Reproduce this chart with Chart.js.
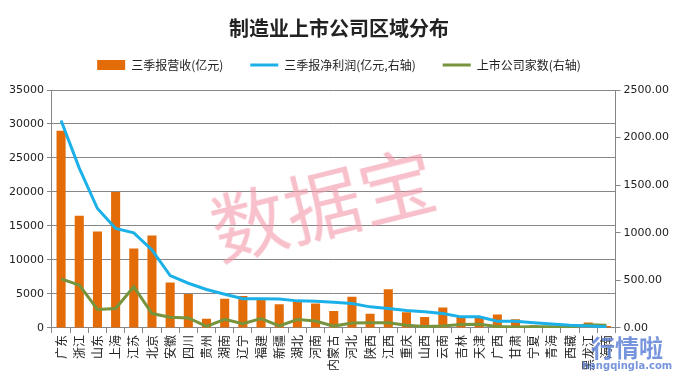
<!DOCTYPE html>
<html>
<head>
<meta charset="utf-8">
<script src="https://cdn.jsdelivr.net/npm/chart.js@4/dist/chart.umd.min.js"></script>
<style>
  body { margin: 0; background: #fff; }
  #wrap { position: relative; width: 674px; height: 380px; }
  #mark {
    position: absolute; left: 208px; top: 146px;
    font: 76px "Noto Sans CJK SC"; color: rgba(244, 150, 168, 0.6);
    transform: rotate(-14deg); pointer-events: none;
  }
  #logo {
    position: absolute; left: 582px; top: 334px; text-align: center;
    font: bold 24px "Noto Sans CJK SC"; color: rgba(95, 130, 215, 0.85);
    line-height: 26px; pointer-events: none;
  }
  #logo small { display: block; font: bold 10px "DejaVu Sans"; line-height: 12px; }
</style>
</head>
<body>
<div id="wrap">
  <canvas id="chart" width="674" height="380"></canvas>
  <div id="mark">数据宝</div>
  <div id="logo">行情啦<small>hangqingla.com</small></div>
</div>
<script>
var provinces = ['广东', '浙江', '山东', '上海', '江苏', '北京', '安徽', '四川', '贵州', '湖南',
  '辽宁', '福建', '新疆', '湖北', '河南', '内蒙古', '河北', '陕西', '江西', '重庆',
  '山西', '云南', '吉林', '天津', '广西', '甘肃', '宁夏', '青海', '西藏', '黑龙江', '海南'];

// 三季报营收(亿元)
var revenue = [29000, 16500, 14200, 20000, 11700, 13600, 6700, 5000, 1350, 4300,
  4700, 4100, 3500, 3900, 3600, 2500, 4600, 2100, 5700, 2300,
  1600, 3000, 1600, 1600, 2000, 1300, 400, 300, 250, 800, 300];

// 三季报净利润(亿元, 右轴)
var profit = [2180, 1680, 1255, 1045, 1000, 820, 550, 470, 405, 355,
  308, 307, 305, 285, 280, 270, 258, 222, 205, 185,
  170, 152, 117, 117, 72, 70, 56, 42, 28, 21, 14];

// 上市公司家数(右轴)
var companies = [516, 452, 195, 205, 434, 152, 113, 106, 18, 92,
  46, 99, 22, 88, 74, 20, 52, 55, 55, 28,
  15, 20, 38, 40, 15, 10, 12, 12, 10, 35, 30];

var tickFont = { family: 'DejaVu Sans', size: 11 };

// a bit more room between legend and plot
var legendGap = {
  id: 'legendGap',
  beforeInit: function (chart) {
    var fit = chart.legend.fit;
    chart.legend.fit = function () {
      fit.call(this);
      this.height += 9;
    };
  }
};

new Chart(document.getElementById('chart'), {
  type: 'bar',
  data: {
    labels: provinces,
    datasets: [{
      label: '三季报营收(亿元)',
      data: revenue,
      backgroundColor: '#E36C09',
      barPercentage: 0.5,
      categoryPercentage: 1,
      yAxisID: 'y',
      pointStyle: 'rect',
      order: 3
    }, {
      label: '三季报净利润(亿元,右轴)',
      type: 'line',
      data: profit,
      borderColor: '#1BB0E8',
      backgroundColor: '#1BB0E8',
      borderWidth: 3,
      pointRadius: 0,
      tension: 0,
      yAxisID: 'y1',
      pointStyle: 'line',
      order: 1
    }, {
      label: '上市公司家数(右轴)',
      type: 'line',
      data: companies,
      borderColor: '#77933C',
      backgroundColor: '#77933C',
      borderWidth: 3,
      pointRadius: 0,
      tension: 0,
      yAxisID: 'y1',
      pointStyle: 'line',
      order: 2
    }]
  },
  plugins: [legendGap],
  options: {
    responsive: false,
    animation: false,
    layout: { padding: { left: 6, right: 2, top: 6, bottom: 7 } },
    plugins: {
      title: {
        display: true,
        text: '制造业上市公司区域分布',
        color: '#222',
        font: { family: 'Noto Sans CJK SC', size: 20, weight: 'bold' },
        padding: { top: 10, bottom: -8 }
      },
      legend: {
        labels: {
          usePointStyle: true,
          pointStyleWidth: 28,
          boxHeight: 10,
          padding: 27,
          color: '#222',
          font: { family: 'Noto Sans CJK SC', size: 12 },
          sort: function (a, b) { return a.datasetIndex - b.datasetIndex; }
        }
      },
      tooltip: { enabled: false }
    },
    scales: {
      x: {
        grid: { display: true, drawOnChartArea: false, drawTicks: true, tickLength: 5, color: '#868686', offset: true },
        border: { color: '#868686' },
        ticks: {
          autoSkip: false, minRotation: 90, maxRotation: 90, padding: 2,
          color: '#222', font: { family: 'Noto Sans CJK SC', size: 12 }
        }
      },
      y: {
        position: 'left',
        min: 0, max: 35000,
        ticks: {
          stepSize: 5000, color: '#222', font: tickFont,
          callback: function (v) { return String(v); }
        },
        grid: { color: '#868686', tickLength: 5 },
        border: { color: '#868686' }
      },
      y1: {
        position: 'right',
        min: 0, max: 2500,
        ticks: {
          stepSize: 500, color: '#222', font: tickFont,
          callback: function (v) { return v.toFixed(2); }
        },
        grid: { drawOnChartArea: false, color: '#868686', tickLength: 5 },
        border: { color: '#868686' }
      }
    }
  }
});
</script>
</body>
</html>
